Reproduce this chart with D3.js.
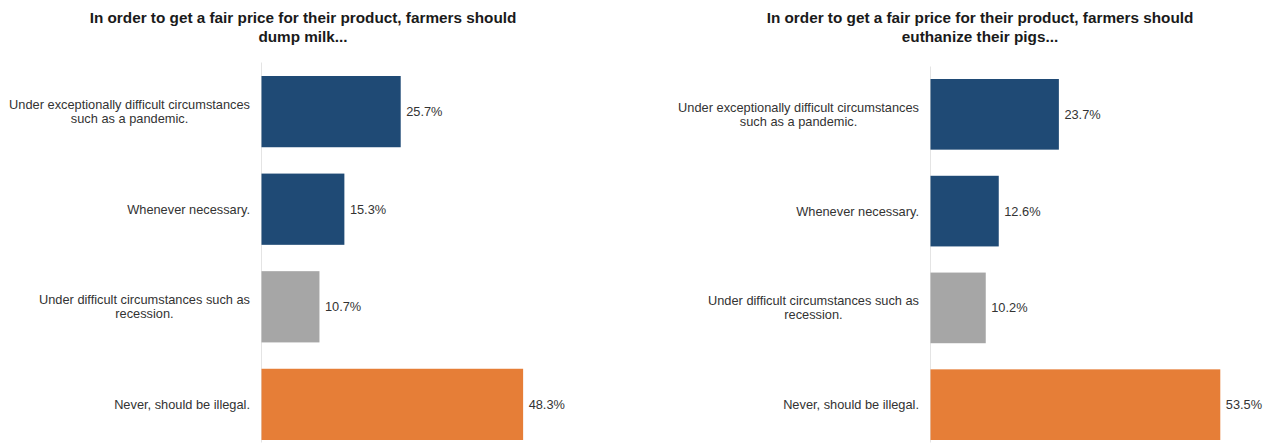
<!DOCTYPE html>
<html>
<head>
<meta charset="utf-8">
<script src="https://cdn.jsdelivr.net/npm/d3@7"></script>
<style>
  body { margin: 0; background: #fff; }
  svg { font-family: 'Liberation Sans', Arial, sans-serif; }
  .title { font-size: 15.3px; font-weight: bold; fill: #1a1a1a; }
  .cat { font-size: 12.8px; fill: #333; }
  .value { font-size: 12.8px; fill: #333; }
  .axis path { stroke: #e4e4e4; }
</style>
</head>
<body>
<svg width="1274" height="448"></svg>
<script>
const categories = [
  ['Under exceptionally difficult circumstances', 'such as a pandemic.'],
  ['Whenever necessary.'],
  ['Under difficult circumstances such as', 'recession.'],
  ['Never, should be illegal.']
]
const milk = [25.7, 15.3, 10.7, 48.3]
const pigs = [23.7, 12.6, 10.2, 53.5]
const colors = ['#1f4a75', '#1f4a75', '#a6a6a6', '#e67e37']
const titles = [
  ['In order to get a fair price for their product, farmers should', 'dump milk...'],
  ['In order to get a fair price for their product, farmers should', 'euthanize their pigs...']
]

const svg = d3.select('svg')

function panel(values, title, opt) {
  const g = svg.append('g')

  /*titulo*/
  const t = g.append('text')
    .attr('class', 'title')
    .attr('text-anchor', 'middle')
  title.forEach((line, i) => {
    t.append('tspan')
      .attr('x', opt.titleX)
      .attr('y', 23 + i * 19)
      .text(line)
  })

  const xScale = d3.scaleLinear()
    .domain([0, 60])
    .range([opt.left, opt.left + 325])

  const yScale = d3.scaleBand()
    .domain(d3.range(values.length))
    .range([opt.top, 440])
    .paddingInner(0.27)
    .paddingOuter(0)

  /*linha do eixo*/
  g.append('g')
    .attr('class', 'axis')
    .attr('transform', `translate(${opt.left}, 0)`)
    .call(d3.axisLeft(d3.scaleLinear().range([opt.axisTop, 442]))
      .ticks(0)
      .tickSize(0)
      .tickFormat(''))

  g.selectAll('.bar')
    .data(values)
    .enter()
    .append('rect')
    .attr('class', 'bar')
    .attr('x', xScale(0) + 0.5)
    .attr('y', (d, i) => yScale(i))
    .attr('width', (d) => xScale(d) - xScale(0))
    .attr('height', yScale.bandwidth())
    .attr('fill', (d, i) => colors[i])

  g.selectAll('.value')
    .data(values)
    .enter()
    .append('text')
    .attr('class', 'value')
    .attr('x', (d) => xScale(d) + 6)
    .attr('y', (d, i) => yScale(i) + yScale.bandwidth() / 2)
    .attr('dy', '0.35em')
    .text((d) => `${d.toFixed(1)}%`)

  /*rotulos das categorias*/
  categories.forEach((lines, i) => {
    const txt = g.append('text')
      .attr('class', 'cat')
      .attr('text-anchor', 'middle')
    const cy = yScale(i) + yScale.bandwidth() / 2
    lines.forEach((line, j) => {
      txt.append('tspan')
        .attr('y', cy + (j - (lines.length - 1) / 2) * 14)
        .attr('dy', '0.35em')
        .text(line)
    })
    let w = 0
    txt.selectAll('tspan').each(function () { w = Math.max(w, this.getComputedTextLength()) })
    txt.selectAll('tspan').attr('x', opt.left - 11 - w / 2)
  })
}

panel(milk, titles[0], { left: 261, top: 76, axisTop: 62, titleX: 303 })
panel(pigs, titles[1], { left: 930, top: 79, axisTop: 66, titleX: 980 })
</script>
</body>
</html>
